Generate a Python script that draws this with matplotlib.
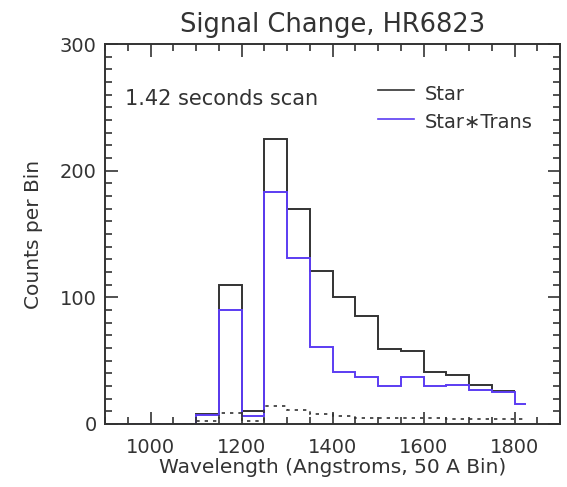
import matplotlib
matplotlib.use('Agg')
import matplotlib.pyplot as plt
from matplotlib.ticker import MultipleLocator

# bin edges in Angstroms (last half bin only used by star+trans / dotted curve)
edges = [925, 1100, 1150, 1200, 1250, 1300, 1350, 1400, 1450, 1500, 1550,
         1600, 1650, 1700, 1750, 1800, 1825]
star = [0, 8, 110, 10, 225, 170, 121, 100, 85, 59, 58, 41, 39, 31, 26]
star_trans = [0, 7, 90, 6, 183, 131, 61, 41, 37, 30, 37, 30, 31, 27, 25, 16]
diff = [0, 2, 9, 2, 14, 11, 8, 6, 5, 5, 5, 5, 4, 4, 4, 4]

title = 'Signal Change, HR6823'
xlabel = 'Wavelength (Angstroms, 50 A Bin)'
ylabel = 'Counts per Bin'
note = '1.42 seconds scan'
legend_names = ['Star', 'Star\u2217Trans']

ink = '#333333'
blue = '#5b3cf2'

plt.rcParams['font.family'] = ['DejaVu Sans']

fig = plt.figure(figsize=(5.67, 4.87), dpi=100)
ax = fig.add_axes([0.1852, 0.1294, 0.8025, 0.780])

# histograms, no drop to zero at the ends
ax.stairs(star, edges[:len(star) + 1], color=ink, lw=1.4, baseline=None)
ax.stairs(star_trans, edges, color=blue, lw=1.4, baseline=None)
ax.stairs(diff, edges, color=ink, lw=1.2, linestyle=(0, (2, 3)), baseline=None)

ax.set_xlim(900, 1900)
ax.set_ylim(0, 300)

ax.xaxis.set_major_locator(MultipleLocator(200))
ax.xaxis.set_minor_locator(MultipleLocator(50))
ax.yaxis.set_major_locator(MultipleLocator(100))
ax.yaxis.set_minor_locator(MultipleLocator(10))
ax.tick_params(which='both', direction='in', top=True, right=True,
               color=ink, labelcolor=ink, labelsize=14, width=1.2)
ax.tick_params(which='major', length=9)
ax.tick_params(which='minor', length=5)
ax.tick_params(axis='x', which='major', pad=10)
ax.tick_params(axis='y', which='major', pad=6)
for sp in ax.spines.values():
    sp.set_linewidth(1.4)
    sp.set_color(ink)

ax.set_title(title, fontsize=18.5, color=ink, pad=9)
ax.set_xlabel(xlabel, fontsize=14.5, color=ink, labelpad=1)
ax.set_ylabel(ylabel, fontsize=14.5, color=ink, labelpad=12)

# annotation + hand made legend
ax.text(0.044, 0.839, note, transform=ax.transAxes, fontsize=15, color=ink,
        va='baseline', ha='left')
ax.plot([0.600, 0.679], [0.879, 0.879], transform=ax.transAxes, color=ink, lw=1.2)
ax.plot([0.600, 0.679], [0.803, 0.803], transform=ax.transAxes, color=blue, lw=1.2)
ax.text(0.703, 0.853, legend_names[0], transform=ax.transAxes, fontsize=14,
        color=ink, va='baseline')
ax.text(0.703, 0.779, legend_names[1], transform=ax.transAxes, fontsize=14,
        color=ink, va='baseline')

fig.savefig('out.png', dpi=100)
